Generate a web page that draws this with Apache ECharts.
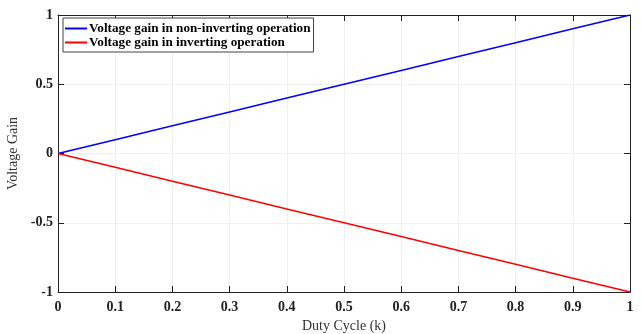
<!DOCTYPE html>
<html>
<head>
<meta charset="utf-8">
<script src="https://cdn.jsdelivr.net/npm/echarts@6/dist/echarts.min.js"></script>
<style>
  html, body { margin: 0; padding: 0; background: #fff; }
  #chart { width: 641px; height: 334px; }
</style>
</head>
<body>
<div id="chart"></div>
<script>
var dutyCycle = [0, 0.1, 0.2, 0.3, 0.4, 0.5, 0.6, 0.7, 0.8, 0.9, 1];
var gainNonInverting = [0, 0.1, 0.2, 0.3, 0.4, 0.5, 0.6, 0.7, 0.8, 0.9, 1];
var gainInverting = [0, -0.1, -0.2, -0.3, -0.4, -0.5, -0.6, -0.7, -0.8, -0.9, -1];
var seriesNames = ['Voltage gain in non-inverting operation', 'Voltage gain in inverting operation'];

function pairs(xs, ys) {
    return xs.map(function (x, i) { return [x, ys[i]]; });
}

var font = 'Liberation Serif';
var dom = document.getElementById('chart');
var myChart = echarts.init(dom);

var boxAxis = {
    axisLine: { show: true, onZero: false, lineStyle: { color: '#222', width: 1 } },
    axisTick: { show: true, inside: true, length: 6, lineStyle: { color: '#222' } },
    axisLabel: { show: false },
    splitLine: { show: false }
};

var option = {
    animation: false,
    grid: { left: 58, right: 11, top: 15, bottom: 42, outerBoundsMode: 'none', containLabel: false },
    legend: {
        orient: 'vertical',
        left: 63,
        top: 18,
        padding: [4, 3, 3, 2],
        itemGap: 1,
        itemWidth: 22,
        itemHeight: 2,
        icon: 'rect',
        borderColor: '#444',
        borderWidth: 1,
        backgroundColor: '#fff',
        textStyle: { fontFamily: font, fontWeight: 'bold', fontSize: 13.2, color: '#000', padding: [0, 0, 0, -3] },
        data: seriesNames
    },
    xAxis: [
        {
            type: 'value', min: 0, max: 1, interval: 0.1, position: 'bottom',
            name: 'Duty Cycle (k)', nameLocation: 'middle', nameGap: 24,
            nameTextStyle: { fontFamily: font, fontSize: 14, color: '#333' },
            axisLine: { show: true, onZero: false, lineStyle: { color: '#222', width: 1 } },
            axisTick: { show: true, inside: true, length: 6, lineStyle: { color: '#222' } },
            axisLabel: { margin: 8, fontFamily: font, fontWeight: 'bold', fontSize: 14, color: '#222' },
            splitLine: { show: true, lineStyle: { color: '#efefef', width: 1 } }
        },
        Object.assign({ type: 'value', min: 0, max: 1, interval: 0.1, position: 'top' }, boxAxis)
    ],
    yAxis: [
        {
            type: 'value', min: -1, max: 1, interval: 0.5, position: 'left',
            name: 'Voltage Gain', nameLocation: 'middle', nameGap: 34,
            nameTextStyle: { fontFamily: font, fontSize: 14, color: '#333' },
            axisLine: { show: true, onZero: false, lineStyle: { color: '#222', width: 1 } },
            axisTick: { show: true, inside: true, length: 6, lineStyle: { color: '#222' } },
            axisLabel: { margin: 5, fontFamily: font, fontWeight: 'bold', fontSize: 14, color: '#222' },
            splitLine: { show: true, lineStyle: { color: '#efefef', width: 1 } }
        },
        Object.assign({ type: 'value', min: -1, max: 1, interval: 0.5, position: 'right' }, boxAxis)
    ],
    series: [
        {
            name: seriesNames[0],
            type: 'line',
            data: pairs(dutyCycle, gainNonInverting),
            showSymbol: false,
            lineStyle: { color: '#0000ff', width: 1.5 },
            itemStyle: { color: '#0000ff' }
        },
        {
            name: seriesNames[1],
            type: 'line',
            data: pairs(dutyCycle, gainInverting),
            showSymbol: false,
            lineStyle: { color: '#ff0000', width: 1.5 },
            itemStyle: { color: '#ff0000' }
        }
    ]
};

myChart.setOption(option);
</script>
</body>
</html>
